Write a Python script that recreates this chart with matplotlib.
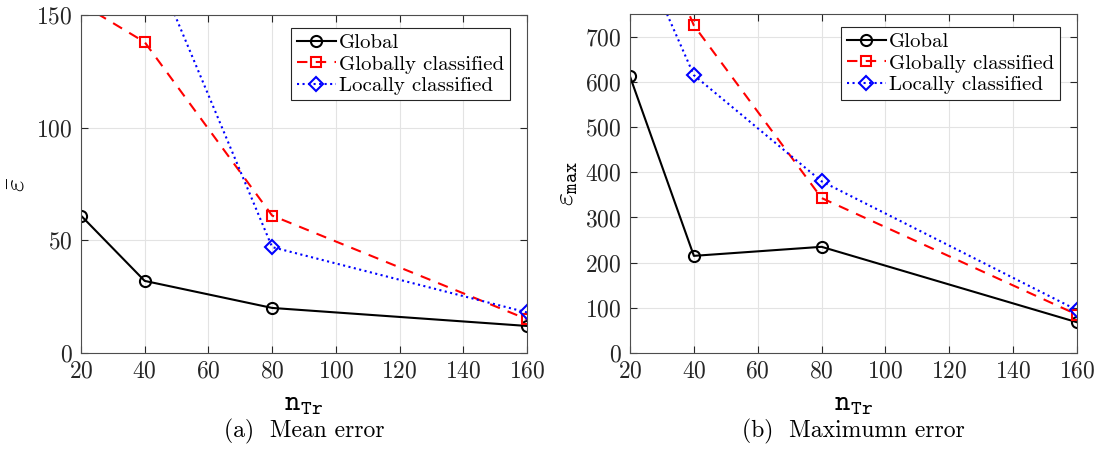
import numpy as np
import matplotlib
matplotlib.use("Agg")
import matplotlib.pyplot as plt

plt.rcParams['font.family'] = ['cmr10', 'DejaVu Serif']
plt.rcParams['mathtext.fontset'] = 'cm'
plt.rcParams['axes.formatter.use_mathtext'] = True

# data (points at the top are off the chart, guessed)
n_tr = [20, 40, 80, 160]
mean_global = [61, 32, 20, 12]
mean_glob_cls = [155, 138, 61, 15]
mean_loc_cls = [260, 182, 47, 18]
max_global = [612, 215, 235, 68]
max_glob_cls = [1058, 725, 343, 85]
max_loc_cls = [936, 615, 380, 95]

fig = plt.figure(figsize=(10.97, 4.61), dpi=100)
ax1 = fig.add_axes([0.0738, 0.2343, 0.4066, 0.733])
ax2 = fig.add_axes([0.5743, 0.2343, 0.4075, 0.735])


def draw(ax, g, gc, lc, ymax, ystep, ylabel):
    ax.plot(n_tr, g, '-', color='black', lw=1.5, marker='o', ms=8,
            mfc='none', mew=1.5, label='Global')
    ax.plot(n_tr, gc, '--', color='red', lw=1.5, marker='s', ms=7,
            mfc='none', mew=1.5, label='Globally classified', dashes=(5, 4))
    ax.plot(n_tr, lc, ':', color='blue', lw=1.5, marker='D', ms=7,
            mfc='none', mew=1.5, label='Locally classified')
    ax.set_xlim(20, 160)
    ax.set_ylim(0, ymax)
    ax.set_xticks(np.arange(20, 161, 20))
    ax.set_yticks(np.arange(0, ymax + 1, ystep))
    ax.grid(True, color='#e3e3e3', lw=0.8)
    ax.tick_params(direction='in', top=True, right=True, labelsize=17,
                   colors='#262626', length=5)
    ax.tick_params(axis='y', pad=6)
    ax.tick_params(axis='x', pad=5)
    for s in ax.spines.values():
        s.set_color('#4d4d4d')
    ax.set_xlabel(r'$\mathtt{n}_{\mathtt{Tr}}$', fontsize=21, labelpad=6)
    ax.set_ylabel(ylabel, fontsize=20, labelpad=4)
    leg = ax.legend(loc='upper right', fontsize=15, fancybox=False,
                    framealpha=1, edgecolor='#262626', handlelength=1.9,
                    borderpad=0.25, labelspacing=0.15, handletextpad=0.15,
                    borderaxespad=0.3, bbox_to_anchor=(0.975, 0.98))
    leg.get_frame().set_linewidth(0.8)


draw(ax1, mean_global, mean_glob_cls, mean_loc_cls, 150, 50,
     r'$\bar{\varepsilon}$')
draw(ax2, max_global, max_glob_cls, max_loc_cls, 750, 100,
     r'$\varepsilon_{\mathtt{max}}$')

fig.text(0.277, 0.065, '(a)  Mean error', ha='center', va='center',
         fontsize=17)
fig.text(0.778, 0.065, '(b)  Maximumn error', ha='center', va='center',
         fontsize=17)

fig.savefig('out.png', dpi=100)
